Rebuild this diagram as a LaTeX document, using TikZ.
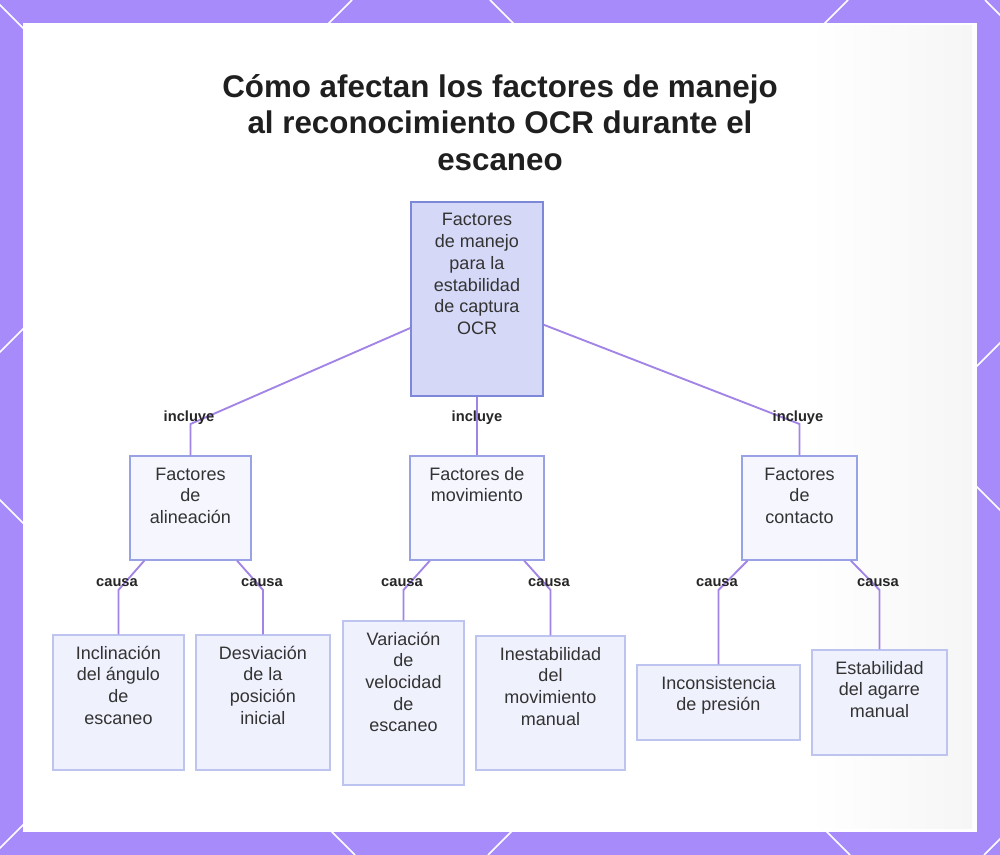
\documentclass[tikz,border=0pt]{standalone}
\usepackage{fontspec}
\setmainfont{Liberation Sans}
\usetikzlibrary{positioning, calc}
\definecolor{frameViolet}{HTML}{A78BFA}
\definecolor{linkViolet}{HTML}{A184E6}
\definecolor{rootFill}{HTML}{D5D9F7}
\definecolor{rootLine}{HTML}{7D88D8}
\definecolor{midFill}{HTML}{F5F6FE}
\definecolor{midLine}{HTML}{98A2E4}
\definecolor{leafFill}{HTML}{EFF1FD}
\definecolor{leafLine}{HTML}{BDC4EF}
\definecolor{inkGray}{HTML}{333333}
\pgfdeclarehorizontalshading{sheen}{100bp}{color(0bp)=(white); color(55bp)=(white); color(100bp)=(black!8)}
\newdimen\px \px=0.75pt
\newcommand{\boxtxt}[3]{\parbox[c][#2\px][t]{#1\px}{\centering\vspace*{6\px}\rule{0pt}{18\px}#3}}

\begin{document}
\begin{tikzpicture}[x=0.75pt, y=-0.75pt,
      box/.style={draw, inner sep=0pt, line width=1pt, text=inkGray,
        font=\fontsize{13.5pt}{16.3pt}\selectfont},
      rootbox/.style={box, fill=rootFill, draw=rootLine, line width=1.3pt},
      midbox/.style={box, fill=midFill, draw=midLine},
      leafbox/.style={box, fill=leafFill, draw=leafLine},
      link/.style={draw=linkViolet, line width=1.4pt},
      lbl/.style={font=\bfseries\fontsize{11pt}{12pt}\selectfont, text=black!85, inner sep=1pt}]
    \useasboundingbox (0,0) rectangle (1000,855);
    % frame
    \fill[frameViolet] (0,0) rectangle (1000,855);
    \begin{scope}
      \clip (0,0) rectangle (1000,855);
      \foreach \c in {-500,-5,490,985} \draw[white, line width=1.1pt] (\c,0) -- ++(855,855);
      \foreach \c in {352,848,1343,1839} \draw[white, line width=1.1pt] (\c,0) -- ++(-855,855);
    \end{scope}
    \fill[white] (23,23) rectangle (977,832);
    \shade[shading=sheen] (560,26) rectangle (972,828);
    % title
    \node[anchor=north, align=center, inner sep=0pt, text=black!88,
      font=\bfseries\fontsize{23.5pt}{27.4pt}\selectfont] (title) at (500,74)
      {Cómo afectan los factores de manejo\\al reconocimiento OCR durante el\\escaneo};
    % boxes
    \node[rootbox] (root) at (477,299) {\boxtxt{132}{194}{Factores\\de manejo\\para la\\estabilidad\\de captura\\OCR}};
    \node[midbox] (alin) at (190.5,508) {\boxtxt{121}{104}{Factores\\de\\alineación}};
    \node[midbox] (mov) at (477,508) {\boxtxt{134}{104}{Factores de\\movimiento}};
    \node[midbox] (cont) at (799.5,508) {\boxtxt{115}{104}{Factores\\de\\contacto}};
    \node[leafbox] (incl) at (118.5,702.5) {\boxtxt{131}{135}{Inclinación\\del ángulo\\de\\escaneo}};
    \node[leafbox] (desv) at (263,702.5) {\boxtxt{134}{135}{Desviación\\de la\\posición\\inicial}};
    \node[leafbox] (vari) at (403.5,703) {\boxtxt{121}{164}{Variación\\de\\velocidad\\de\\escaneo}};
    \node[leafbox] (ines) at (550.5,703) {\boxtxt{149}{134}{Inestabilidad\\del\\movimiento\\manual}};
    \node[leafbox] (inco) at (718.5,702.5) {\boxtxt{163}{75}{Inconsistencia\\de presión}};
    \node[leafbox] (esta) at (879.5,702.5) {\boxtxt{135}{105}{Estabilidad\\del agarre\\manual}};
    % bends
    \coordinate (balin) at (190.5,424);
    \coordinate (bcont) at (799.5,424);
    \coordinate (bincl) at (118.5,590);
    \coordinate (bdesv) at (263,590);
    \coordinate (bvari) at (403.5,590);
    \coordinate (bines) at (550.5,590);
    \coordinate (binco) at (718.5,590);
    \coordinate (besta) at (879.5,590);
    % links
    \draw[link] (root) -- (balin) -- (alin);
    \draw[link] (root) -- (mov);
    \draw[link] (root) -- (bcont) -- (cont);
    \foreach \p/\c in {alin/incl, alin/desv, mov/vari, mov/ines, cont/inco, cont/esta}
      \draw[link] (\p) -- (b\c) -- (\c);
    % labels
    \foreach \x [count=\i] in {189,477,798}
      \node[lbl] (inc\i) at (\x,418) {incluye};
    \foreach \x [count=\i] in {117,262,402,549,717,878}
      \node[lbl] (cau\i) at (\x,583) {causa};
  \end{tikzpicture}
\end{document}
